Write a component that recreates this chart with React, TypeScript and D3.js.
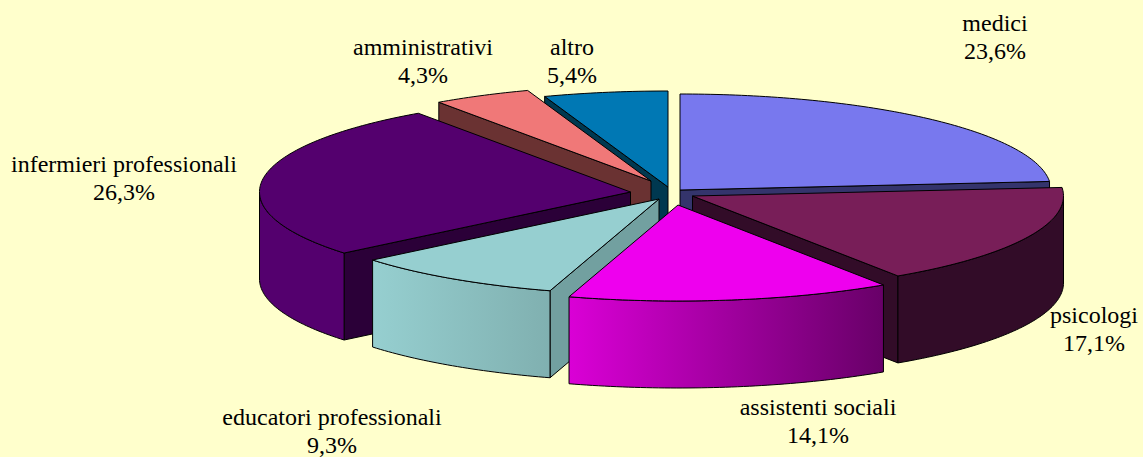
import React from "react";
import * as d3 from "d3";

const categories = ["medici", "psicologi", "assistenti sociali", "educatori professionali", "infermieri professionali", "amministrativi", "altro"];
const shares = [23.6, 17.1, 14.1, 9.3, 26.3, 4.3, 5.4];
const shareLabels = ["23,6%", "17,1%", "14,1%", "9,3%", "26,3%", "4,3%", "5,4%"];
const topColors = ["#7878EE", "#781E58", "#EE00EE", "#96CFD0", "#54006E", "#F07878", "#0078B4"];
const edgeColors = ["#34346C", "#320C28", "#6A006A", "#72A0A0", "#2B0038", "#6A3232", "#003850"];
const wallStart = ["#7878EE", "#320C28", "#DA00D6", "#96CFD0", "#54006E", "#6A3232", "#003850"];
const wallEnd = ["#34346C", "#320C28", "#680068", "#80B0B0", "#54006E", "#6A3232", "#003850"];

const W = 1143, H = 457;
const RX = 371, RY = 96, DEPTH = 87;
// Where each exploded wedge has its tip, and the back-to-front painting order.
const tips: [number, number][] = [[680, 190], [692.5, 196], [678, 205], [659, 199], [630.5, 192], [651, 181], [668, 187]];
const paintOrder = [6, 5, 0, 4, 1, 3, 2];
const labelPos: [number, number][] = [[995, 31], [1094, 323], [818, 415], [332, 425], [124, 172], [423, 55], [572, 55]];
const LINE = 28;

const arcs = d3.pie<number>().sort(null).value((d) => d)(shares);
const rim = (a: number, tip: [number, number], dy = 0): [number, number] => [
  tip[0] + RX * Math.sin(a),
  tip[1] - RY * Math.cos(a) + dy,
];
const line = d3.line<[number, number]>();
const sweep = (a: number, b: number) => {
  const n = Math.max(2, Math.ceil((b - a) * 60));
  return d3.range(n + 1).map((i) => a + ((b - a) * i) / n);
};

export default function App() {
  const stroke = { stroke: "#000", strokeWidth: 1, strokeLinejoin: "round" as const };
  return (
    <svg width={W} height={H} viewBox={`0 0 ${W} ${H}`} style={{ position: "fixed", left: 0, top: 0, display: "block" }}>
      <defs>
        {arcs.map((_, i) => {
          const a = Math.max(arcs[i].startAngle, Math.PI / 2);
          const b = Math.min(arcs[i].endAngle, (3 * Math.PI) / 2);
          const xs = [rim(a, tips[i])[0], rim(b, tips[i])[0]];
          return (
            <linearGradient key={i} id={`wall${i}`} gradientUnits="userSpaceOnUse" x1={d3.min(xs)} x2={d3.max(xs)} y1={0} y2={0}>
              <stop offset="0" stopColor={wallStart[i]} />
              <stop offset="1" stopColor={wallEnd[i]} />
            </linearGradient>
          );
        })}
      </defs>
      <rect width={W} height={H} fill="#FFFFCC" />
      {paintOrder.map((i) => {
        const { startAngle: s, endAngle: e } = arcs[i];
        const tip = tips[i];
        const tipLow: [number, number] = [tip[0], tip[1] + DEPTH];
        const radial = (a: number) => line([tip, rim(a, tip), rim(a, tip, DEPTH), tipLow]) + "Z";
        const wa = Math.max(s, Math.PI / 2);
        const wb = Math.min(e, (3 * Math.PI) / 2);
        const hasWall = wb > wa;
        const wallPts = hasWall
          ? [...sweep(wa, wb).map((a) => rim(a, tip)), ...sweep(wa, wb).reverse().map((a) => rim(a, tip, DEPTH))]
          : [];
        const topPts: [number, number][] = [tip, ...sweep(s, e).map((a) => rim(a, tip))];
        return (
          <g key={categories[i]}>
            {-Math.sin(s) > 0 && <path d={radial(s)} fill={edgeColors[i]} {...stroke} />}
            {Math.sin(e) > 0 && <path d={radial(e)} fill={edgeColors[i]} {...stroke} />}
            {hasWall && <path d={line(wallPts) + "Z"} fill={`url(#wall${i})`} {...stroke} />}
            <path d={line(topPts) + "Z"} fill={topColors[i]} {...stroke} />
          </g>
        );
      })}
      {categories.map((c, i) => (
        <text key={c} x={labelPos[i][0]} y={labelPos[i][1]} textAnchor="middle" fontFamily="'Liberation Serif', serif" fontSize={24} fill="#000">
          <tspan x={labelPos[i][0]}>{c}</tspan>
          <tspan x={labelPos[i][0]} dy={LINE}>{shareLabels[i]}</tspan>
        </text>
      ))}
    </svg>
  );
}
